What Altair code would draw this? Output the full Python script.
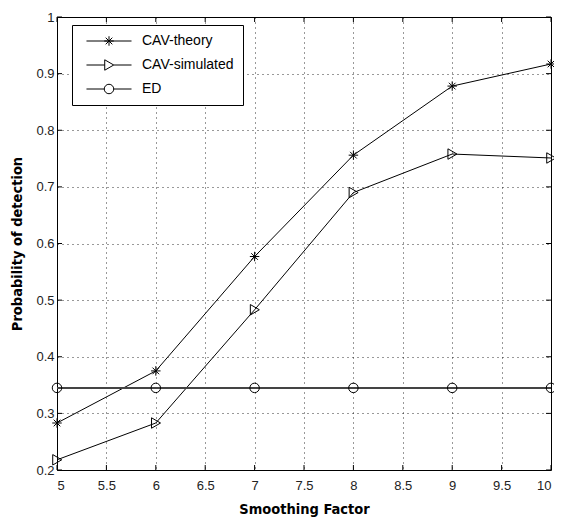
import altair as alt
import pandas as pd

x_vals = [5, 6, 7, 8, 9, 10]
cav_theory = [0.283, 0.375, 0.577, 0.756, 0.878, 0.917]
cav_simulated = [0.218, 0.283, 0.483, 0.690, 0.758, 0.751]
ed_vals = [0.345, 0.345, 0.345, 0.345, 0.345, 0.345]
series_names = ["CAV-theory", "CAV-simulated", "ED"]
x_ticks = [5, 5.5, 6, 6.5, 7, 7.5, 8, 8.5, 9, 9.5, 10]
y_ticks = [0.2, 0.3, 0.4, 0.5, 0.6, 0.7, 0.8, 0.9, 1.0]

rows = []
for name, vals in zip(series_names, [cav_theory, cav_simulated, ed_vals]):
    for xv, yv in zip(x_vals, vals):
        rows.append({"x": xv, "y": yv, "series": name})
df = pd.DataFrame(rows)

W, H = 494, 453
FONT = "Liberation Sans"
TFONT = "DejaVu Sans Condensed, Liberation Sans, sans-serif"

# marker shapes (unit space)
ast = "M-1,0H1M0,-1V1M-0.7,-0.7L0.7,0.7M-0.7,0.7L0.7,-0.7"
tri = "M-0.9,-1.1L1,0L-0.9,1.1Z"
circ = "M-1,0A1,1,0,1,1,1,0A1,1,0,1,1,-1,0Z"
ast_l = "M-4.75,0H4.75" + ast
tri_l = "M-4.75,0H-0.9M1,0H4.75" + tri
circ_l = "M-4.75,0H-1M1,0H4.75" + circ

xenc = alt.X("x:Q", scale=alt.Scale(domain=[5, 10], nice=False, zero=False),
             axis=alt.Axis(values=x_ticks, format="~g", title="Smoothing Factor"))
yenc = alt.Y("y:Q", scale=alt.Scale(domain=[0.2, 1.0], nice=False, zero=False),
             axis=alt.Axis(values=y_ticks, format="~g", title="Probability of detection"))

base = alt.Chart(df)

lines = base.transform_filter(alt.datum.series != "ED").mark_line(
    color="black", strokeWidth=1).encode(x=xenc, y=yenc, detail="series:N")
ed_line = base.transform_filter(alt.datum.series == "ED").mark_line(
    color="#444444", strokeWidth=2).encode(x=xenc, y=yenc)

points = base.mark_point(filled=False, color="black", strokeWidth=1, size=90, opacity=1).encode(
    x=xenc, y=yenc,
    shape=alt.Shape("series:N", scale=alt.Scale(domain=series_names, range=[ast, tri, circ]),
                    legend=None))

legend_layer = base.mark_point(filled=False, color="black", opacity=0, size=90).encode(
    x=xenc, y=yenc,
    shape=alt.Shape("series:N", scale=alt.Scale(domain=series_names, range=[ast_l, tri_l, circ_l]),
                    legend=alt.Legend(
                        title=None, orient="none", legendX=15, legendY=8,
                        strokeColor="black", fillColor="white", padding=9,
                        labelFont=FONT, labelFontSize=14, labelColor="black",
                        symbolSize=90, symbolStrokeWidth=1, symbolStrokeColor="black",
                        symbolFillColor="transparent", symbolOffset=21, labelOffset=26,
                        symbolOpacity=1, rowPadding=9, cornerRadius=0)))

xt = pd.DataFrame({"t": x_ticks})
yt = pd.DataFrame({"t": y_ticks})
xsc = alt.Scale(domain=[5, 10], nice=False, zero=False)
ysc = alt.Scale(domain=[0.2, 1.0], nice=False, zero=False)
tick_b = alt.Chart(xt).mark_rule(color="black", strokeWidth=1).encode(
    x=alt.X("t:Q", scale=xsc), y=alt.value(H), y2=alt.value(H - 5))
tick_t = alt.Chart(xt).mark_rule(color="black", strokeWidth=1).encode(
    x=alt.X("t:Q", scale=xsc), y=alt.value(0), y2=alt.value(5))
tick_l = alt.Chart(yt).mark_rule(color="black", strokeWidth=1).encode(
    y=alt.Y("t:Q", scale=ysc), x=alt.value(0), x2=alt.value(5))
tick_r = alt.Chart(yt).mark_rule(color="black", strokeWidth=1).encode(
    y=alt.Y("t:Q", scale=ysc), x=alt.value(W), x2=alt.value(W - 5))

chart = alt.layer(tick_b, tick_t, tick_l, tick_r, lines, ed_line, points, legend_layer).resolve_scale(
    shape="independent"
).properties(
    width=W, height=H,
    autosize=alt.AutoSizeParams(type="none"),
    padding={"left": 49, "top": 9, "right": 3, "bottom": 49},
    background="white",
).configure_view(
    stroke="black", strokeWidth=1
).configure_axis(
    grid=True, gridColor="black", gridDash=[1, 4], gridOpacity=0.8, gridWidth=1,
    ticks=False, domain=False,
    labelFont=FONT, labelFontSize=13, labelColor="#222",
    titleFont=TFONT, titleFontSize=14.5, titleFontWeight="bold", titleColor="black",
).configure_axisX(
    labelPadding=9, titlePadding=10
).configure_axisY(
    labelPadding=3, titlePadding=11
)

chart.save("out.html", embed_options={"renderer": "svg", "actions": False})
